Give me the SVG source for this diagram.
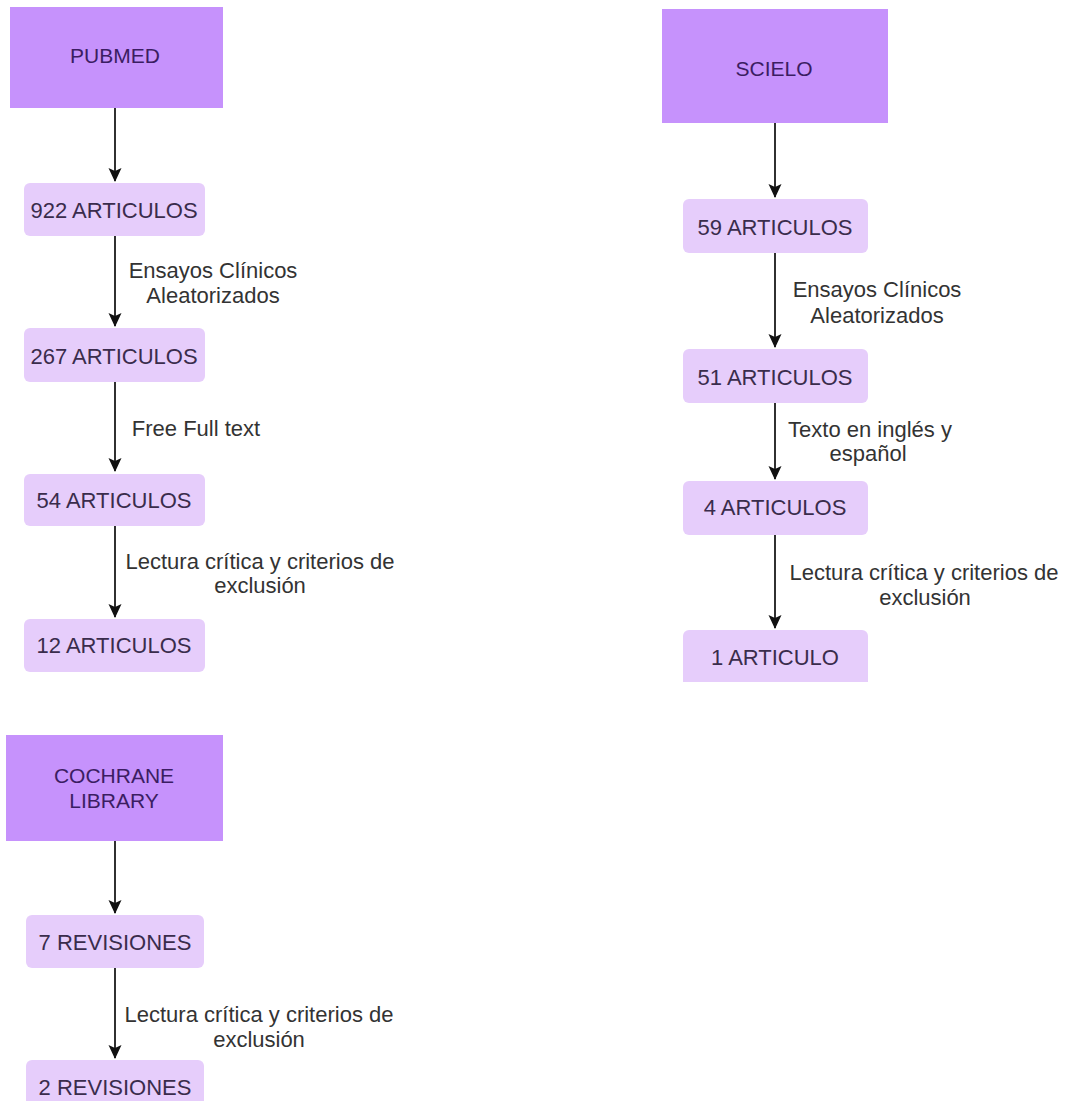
<svg xmlns="http://www.w3.org/2000/svg" width="1066" height="1101" viewBox="0 0 1066 1101">
<style>
.hdr{fill:#c692fc;}
.box{fill:#e6cdfb;}
.ht{font-family:"Liberation Sans",Arial,sans-serif;font-size:21px;fill:#3b1d62;text-anchor:middle;}
.bt{font-family:"Liberation Sans",Arial,sans-serif;font-size:22px;fill:#3a2c4c;text-anchor:middle;}
.lbl{font-family:"Liberation Sans",Arial,sans-serif;font-size:22px;fill:#333333;text-anchor:middle;}
.edge{stroke:#1a1a1a;stroke-width:1.8;fill:none;marker-end:url(#arr);}
</style>
<defs>
<marker id="arr" markerUnits="userSpaceOnUse" viewBox="0 0 14 14" refX="13" refY="7" markerWidth="14" markerHeight="14" orient="auto">
<path d="M0,0.5 L14,7 L0,13.5 L3,7 z" fill="#111111"/>
</marker>
</defs>
<rect width="1066" height="1101" fill="#ffffff"/>

<g id="connectors">
<line class="edge" x1="115" y1="108" x2="115" y2="181"/>
<line class="edge" x1="115" y1="236" x2="115" y2="326"/>
<line class="edge" x1="115" y1="382" x2="115" y2="471"/>
<line class="edge" x1="115" y1="526" x2="115" y2="617"/>
<line class="edge" x1="775" y1="123" x2="775" y2="197"/>
<line class="edge" x1="775" y1="253" x2="775" y2="347"/>
<line class="edge" x1="775" y1="403" x2="775" y2="479"/>
<line class="edge" x1="775" y1="535" x2="775" y2="628"/>
<line class="edge" x1="115" y1="841" x2="115" y2="913"/>
<line class="edge" x1="115" y1="968" x2="115" y2="1058"/>
<g id="edge-labels">
<text class="lbl" x="213" y="278">Ensayos Clínicos</text>
<text class="lbl" x="213" y="303">Aleatorizados</text>
<text class="lbl" x="196" y="436">Free Full text</text>
<text class="lbl" x="260" y="569">Lectura crítica y criterios de</text>
<text class="lbl" x="260" y="593">exclusión</text>
<text class="lbl" x="877" y="297">Ensayos Clínicos</text>
<text class="lbl" x="877" y="323">Aleatorizados</text>
<text class="lbl" x="870" y="437">Texto en inglés y</text>
<text class="lbl" x="868" y="461">español</text>
<text class="lbl" x="924" y="580">Lectura crítica y criterios de</text>
<text class="lbl" x="925" y="605">exclusión</text>
<text class="lbl" x="259" y="1022">Lectura crítica y criterios de</text>
<text class="lbl" x="259" y="1047">exclusión</text>
</g>
</g>

<g id="pubmed"><rect class="hdr" x="10" y="7" width="213" height="101"/><text class="ht" x="115" y="63">PUBMED</text></g>
<g id="p922"><rect class="box" x="24" y="183" width="181" height="53" rx="6"/><text class="bt" x="114" y="218">922 ARTICULOS</text></g>
<g id="p267"><rect class="box" x="24" y="328" width="181" height="54" rx="6"/><text class="bt" x="114" y="364">267 ARTICULOS</text></g>
<g id="p54"><rect class="box" x="24" y="474" width="181" height="52" rx="6"/><text class="bt" x="114" y="508">54 ARTICULOS</text></g>
<g id="p12"><rect class="box" x="24" y="619" width="181" height="53" rx="6"/><text class="bt" x="114" y="653">12 ARTICULOS</text></g>

<g id="scielo"><rect class="hdr" x="662" y="9" width="226" height="114"/><text class="ht" x="774" y="76">SCIELO</text></g>
<g id="s59"><rect class="box" x="683" y="199" width="185" height="54" rx="6"/><text class="bt" x="775" y="235">59 ARTICULOS</text></g>
<g id="s51"><rect class="box" x="683" y="349" width="185" height="54" rx="6"/><text class="bt" x="775" y="385">51 ARTICULOS</text></g>
<g id="s4"><rect class="box" x="683" y="481" width="185" height="54" rx="6"/><text class="bt" x="775" y="515">4 ARTICULOS</text></g>
<g id="s1"><path class="box" d="M689,630 H862 A6,6 0 0 1 868,636 V682 H683 V636 A6,6 0 0 1 689,630 Z"/><text class="bt" x="775" y="665">1 ARTICULO</text></g>

<g id="cochrane"><rect class="hdr" x="6" y="735" width="217" height="106"/><text class="ht" x="114" y="783">COCHRANE</text><text class="ht" x="114" y="808">LIBRARY</text></g>
<g id="c7"><rect class="box" x="26" y="915" width="178" height="53" rx="6"/><text class="bt" x="115" y="950">7 REVISIONES</text></g>
<g id="c2"><path class="box" d="M32,1060 H198 A6,6 0 0 1 204,1066 V1101 H26 V1066 A6,6 0 0 1 32,1060 Z"/><text class="bt" x="115" y="1095">2 REVISIONES</text></g>
</svg>
